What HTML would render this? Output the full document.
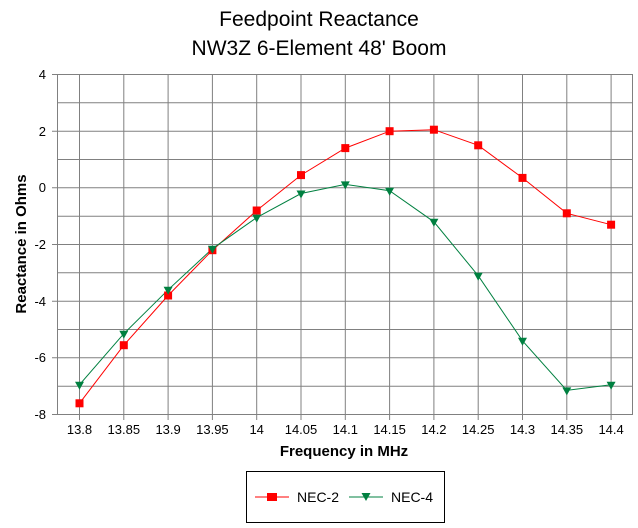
<!DOCTYPE html>
<html><head><style>body{margin:0;background:#fff}svg{display:block}</style></head><body>
<svg width="638" height="528" xmlns="http://www.w3.org/2000/svg" font-family="Liberation Sans, sans-serif">
<rect width="638" height="528" fill="#fff"/>
<text x="319" y="26" font-size="21" text-anchor="middle">Feedpoint Reactance</text>
<text x="319" y="55" font-size="21" text-anchor="middle">NW3Z 6-Element 48' Boom</text>
<g stroke="#808080" stroke-width="1">
<path d="M57 74.5H632M57 102.8H632M57 131.2H632M57 159.5H632M57 187.8H632M57 216.2H632M57 244.5H632M57 272.8H632M57 301.2H632M57 329.5H632M57 357.8H632M57 386.2H632"/>
<path d="M79.5 74V420M123.8 74V420M168.1 74V420M212.4 74V420M256.7 74V420M301 74V420M345.3 74V420M389.6 74V420M433.9 74V420M478.2 74V420M522.5 74V420M566.8 74V420M611.1 74V420"/>
<path d="M52 74.5H57M52 131.2H57M52 187.8H57M52 244.5H57M52 301.2H57M52 357.8H57M52 414.5H57"/>
<rect x="57.5" y="74.5" width="575" height="340" fill="none"/>
</g>
<g font-size="13" text-anchor="end">
<text x="46" y="79">4</text><text x="46" y="136">2</text><text x="46" y="192">0</text><text x="46" y="249">-2</text><text x="46" y="306">-4</text><text x="46" y="362">-6</text><text x="46" y="419">-8</text>
</g>
<g font-size="13" text-anchor="middle">
<text x="79.5" y="434">13.8</text><text x="123.8" y="434">13.85</text><text x="168.1" y="434">13.9</text><text x="212.4" y="434">13.95</text><text x="256.7" y="434">14</text><text x="301" y="434">14.05</text><text x="345.3" y="434">14.1</text><text x="389.6" y="434">14.15</text><text x="433.9" y="434">14.2</text><text x="478.2" y="434">14.25</text><text x="522.5" y="434">14.3</text><text x="566.8" y="434">14.35</text><text x="611.1" y="434">14.4</text>
</g>
<text x="344" y="456" font-size="15" font-weight="bold" text-anchor="middle">Frequency in MHz</text>
<text transform="translate(26,244) rotate(-90)" font-size="15" font-weight="bold" text-anchor="middle">Reactance in Ohms</text>
<polyline fill="none" stroke="#ff0000" stroke-width="1" points="79.5,403.3 123.8,345.2 168.1,295.5 212.4,250.2 256.7,210.5 301,175.1 345.3,148.1 389.6,131.2 433.9,129.7 478.2,145.3 522.5,177.9 566.8,213.3 611.1,224.7"/>
<polyline fill="none" stroke="#008040" stroke-width="1" points="79.5,384.7 123.8,333.7 168.1,289.8 212.4,248.7 256.7,217.6 301,193.5 345.3,184.4 389.6,190.7 433.9,221.8 478.2,275.7 522.5,340.8 566.8,390.4 611.1,384.7"/>
<g fill="#ff0000">
<rect x="75.5" y="399.3" width="8" height="8"/><rect x="119.8" y="341.2" width="8" height="8"/><rect x="164.1" y="291.5" width="8" height="8"/><rect x="208.4" y="246.2" width="8" height="8"/><rect x="252.7" y="206.5" width="8" height="8"/><rect x="297" y="171.1" width="8" height="8"/><rect x="341.3" y="144.1" width="8" height="8"/><rect x="385.6" y="127.2" width="8" height="8"/><rect x="429.9" y="125.7" width="8" height="8"/><rect x="474.2" y="141.3" width="8" height="8"/><rect x="518.5" y="173.9" width="8" height="8"/><rect x="562.8" y="209.3" width="8" height="8"/><rect x="607.1" y="220.7" width="8" height="8"/>
</g>
<g fill="#008040">
<path d="M75 381.7h9l-4.5 8zM119.3 330.7h9l-4.5 8zM163.6 286.8h9l-4.5 8zM207.9 245.7h9l-4.5 8zM252.2 214.6h9l-4.5 8zM296.5 190.5h9l-4.5 8zM340.8 181.4h9l-4.5 8zM385.1 187.7h9l-4.5 8zM429.4 218.8h9l-4.5 8zM473.7 272.7h9l-4.5 8zM518 337.8h9l-4.5 8zM562.3 387.4h9l-4.5 8zM606.6 381.7h9l-4.5 8z"/>
</g>
<rect x="246.5" y="471.5" width="198" height="51" fill="none" stroke="#000"/>
<line x1="255" y1="497" x2="289" y2="497" stroke="#ff0000"/>
<rect x="267" y="493" width="10" height="8" fill="#ff0000"/>
<text x="297" y="502" font-size="14">NEC-2</text>
<line x1="349" y1="497" x2="383" y2="497" stroke="#008040"/>
<path d="M361.5 493h9l-4.5 8z" fill="#008040"/>
<text x="391" y="502" font-size="14">NEC-4</text>
</svg>
</body></html>
